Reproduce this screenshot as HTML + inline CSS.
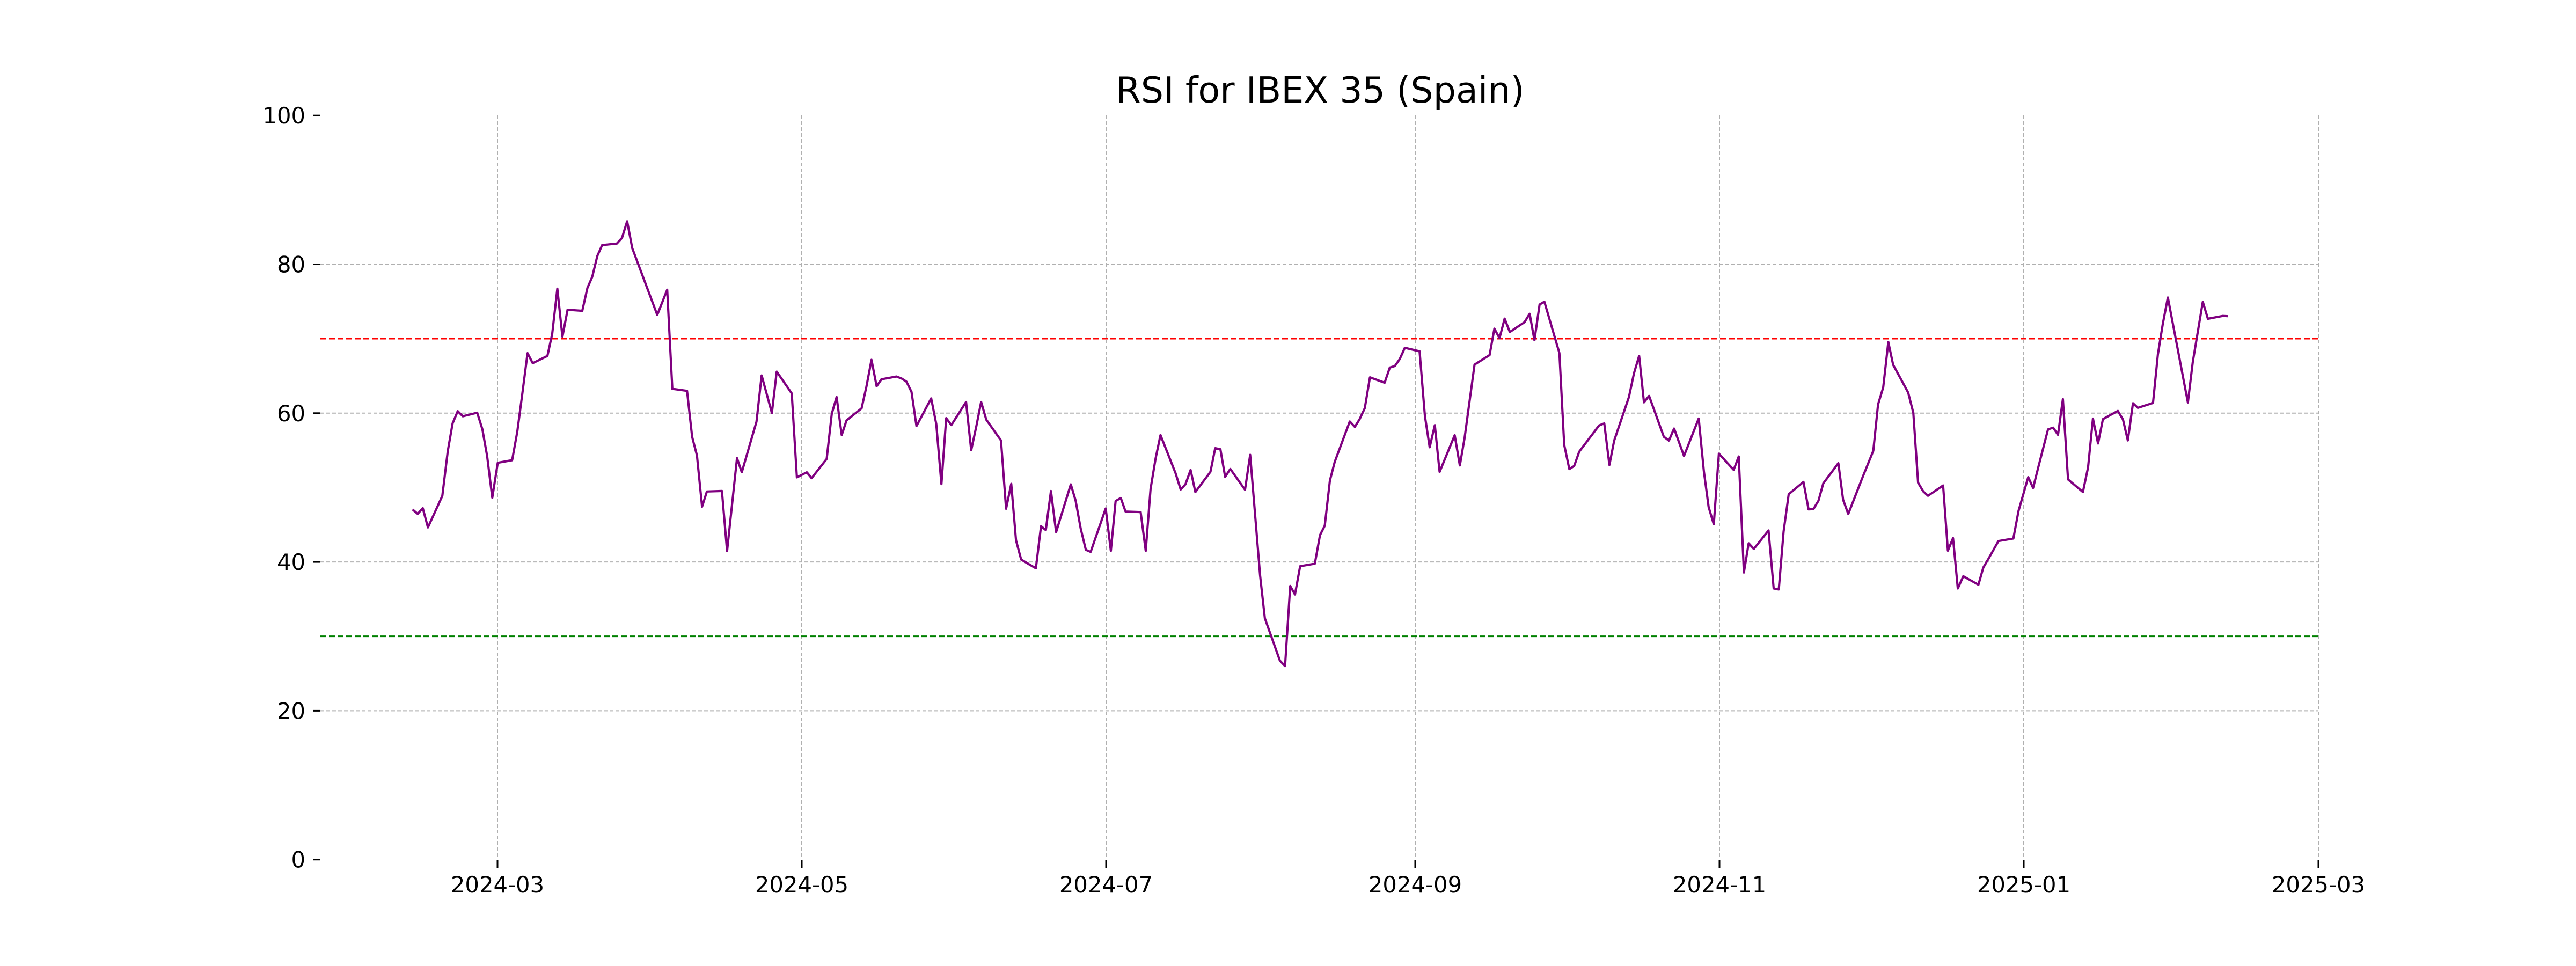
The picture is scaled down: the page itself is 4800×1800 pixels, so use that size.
<!DOCTYPE html>
<html><head><meta charset="utf-8"><style>
html,body{margin:0;padding:0;background:#fff;}
svg{display:block;}
text{font-family:"DejaVu Sans","Liberation Sans",sans-serif;fill:#000;}
</style></head><body>
<svg id="s" width="4800" height="1800" viewBox="0 0 4800 1800" xmlns="http://www.w3.org/2000/svg">
<rect width="4800" height="1800" fill="#fff"/>
<g stroke="#b0b0b0" stroke-width="2" stroke-dasharray="7,4" fill="none">
<line x1="597" x2="4320" y1="1324.4" y2="1324.4"/>
<line x1="597" x2="4320" y1="1047.1" y2="1047.1"/>
<line x1="597" x2="4320" y1="769.8" y2="769.8"/>
<line x1="597" x2="4320" y1="492.5" y2="492.5"/>
<line x1="927" x2="927" y1="215" y2="1601"/>
<line x1="1494" x2="1494" y1="215" y2="1601"/>
<line x1="2061" x2="2061" y1="215" y2="1601"/>
<line x1="2637" x2="2637" y1="215" y2="1601"/>
<line x1="3204" x2="3204" y1="215" y2="1601"/>
<line x1="3771" x2="3771" y1="215" y2="1601"/>
<line x1="4320" x2="4320" y1="215" y2="1601"/>
</g>
<line x1="597" x2="4320" y1="631" y2="631" stroke="#ff0000" stroke-width="3" stroke-dasharray="11,5"/>
<line x1="597" x2="4320" y1="1185.6" y2="1185.6" stroke="#008000" stroke-width="3" stroke-dasharray="11,5"/>
<polyline id="p" fill="none" stroke="#800080" stroke-width="4.2" stroke-linejoin="round"/>
<g stroke="#000" stroke-width="3">
<line x1="583" x2="597" y1="1601.7" y2="1601.7"/>
<line x1="583" x2="597" y1="1324.4" y2="1324.4"/>
<line x1="583" x2="597" y1="1047.1" y2="1047.1"/>
<line x1="583" x2="597" y1="769.8" y2="769.8"/>
<line x1="583" x2="597" y1="492.5" y2="492.5"/>
<line x1="583" x2="597" y1="215.2" y2="215.2"/>
<line x1="927" x2="927" y1="1603" y2="1617"/>
<line x1="1494" x2="1494" y1="1603" y2="1617"/>
<line x1="2061" x2="2061" y1="1603" y2="1617"/>
<line x1="2637" x2="2637" y1="1603" y2="1617"/>
<line x1="3204" x2="3204" y1="1603" y2="1617"/>
<line x1="3771" x2="3771" y1="1603" y2="1617"/>
<line x1="4320" x2="4320" y1="1603" y2="1617"/>
</g>
<g font-size="41.7" text-anchor="end">
<text x="569" y="1616.7">0</text>
<text x="569" y="1339.4">20</text>
<text x="569" y="1062.1">40</text>
<text x="569" y="784.8">60</text>
<text x="569" y="507.5">80</text>
<text x="569" y="230.2">100</text>
</g>
<g font-size="41.7" text-anchor="middle">
<text x="927" y="1663">2024-03</text>
<text x="1494" y="1663">2024-05</text>
<text x="2061" y="1663">2024-07</text>
<text x="2637" y="1663">2024-09</text>
<text x="3204" y="1663">2024-11</text>
<text x="3771" y="1663">2025-01</text>
<text x="4320" y="1663">2025-03</text>
</g>
<text x="2460" y="191" font-size="66.7" text-anchor="middle">RSI for IBEX 35 (Spain)</text>
</svg>
<script>
var z6=[[45,1253],[60,1270],[75,1248],[90,1323],[132,1200],[148,1025],[162,918],[177,870],[192,890],[234,876],[249,940],[263,1045],[278,1207],[294,1071],[336,1061],[351,950],[366,800],[381,644],[396,683],[439,655],[453,570],[468,393],[483,580],[498,475],[541,479],[556,390],[570,347],[585,265],[599,223],[642,217],[657,195],[672,130],[687,235],[760,495],[789,397],[804,783],[847,791],[862,970],[876,1043],[891,1242],[905,1183],[949,1181],[964,1415],[993,1053],[1007,1108],[1050,911],[1065,731],[1095,877],[1109,716],[1153,801],[1168,1128],[1197,1108],[1211,1131],[1255,1056],[1270,880],[1284,815],[1299,963],[1313,906],[1357,859],[1371,775],[1386,670],[1401,773],[1415,746],[1459,735],[1474,743],[1488,755],[1503,795]];
var z7=[[12,510],[55,402],[70,502],[85,736],[99,479],[114,506],[157,416],[172,604],[187,510],[201,416],[216,485],[259,566],[274,832],[289,735],[303,955],[318,1030],[361,1064],[376,900],[390,915],[405,763],[420,923],[463,737],[477,800],[492,910],[507,992],[521,1000],[565,831],[580,996],[594,802],[609,790],[623,843],[667,845],[682,996],[696,755],[711,635],[725,545],[769,693],[784,757],[798,737],[813,681],[827,767],[871,688],[885,596],[900,600],[914,708],[929,677],[972,758],[987,622],[1016,1092],[1030,1259],[1074,1424],[1089,1445],[1104,1133],[1118,1166],[1133,1056],[1176,1046],[1191,935],[1205,898],[1220,722],[1234,650],[1278,492],[1293,513],[1307,483],[1322,440],[1337,320],[1380,341],[1395,282],[1410,276],[1424,249],[1439,205],[1482,219]];
var z8=[[8,575],[22,697],[37,611],[51,793],[95,650],[110,768],[124,660],[153,375],[197,338],[211,235],[226,272],[241,196],[256,248],[299,210],[314,177],[328,280],[343,141],[357,130],[401,330],[415,688],[430,782],[444,770],[459,714],[517,612],[532,604],[547,766],[561,671],[604,502],[619,408],[634,341],[648,522],[663,497],[706,656],[721,671],[736,624],[765,731],[808,585],[823,790],[837,930],[852,997],[867,722],[910,785],[925,733],[940,1185],[954,1071],[969,1093],[1012,1021],[1027,1247],[1042,1251],[1056,1025],[1071,880],[1114,832],[1129,939],[1143,938],[1158,905],[1172,838],[1216,759],[1230,902],[1245,957],[1288,810],[1318,711],[1332,530],[1347,464],[1362,287],[1376,376],[1420,484],[1435,563],[1449,835],[1464,869],[1478,886],[1522,846],[1536,1100],[1551,1051],[1565,1247]];
var z9=[[331,1304],[390,1337],[409,1270],[429,1236],[468,1167],[526,1157],[546,1050],[584,918],[603,960],[623,880],[661,732],[681,725],[700,753],[719,614],[739,927],[797,976],[817,880],[836,690],[856,787],[875,692],[933,660],[953,693],[972,775],[992,630],[1011,648],[1070,629],[1089,440],[1108,322],[1128,218],[1206,627],[1225,470],[1264,235],[1284,301],[1342,290],[1362,291]];
var pts=[];
function add(a,x0,y0,sx,sy){for(var i=0;i<a.length;i++){pts.push((x0+a[i][0]/sx).toFixed(1)+','+(y0+a[i][1]/sy).toFixed(1));}}
add(z6,740,350,1.568,2.0907);
add(z7,1700,550,1.568,2.0907);
add(z8,2650,500,1.568,2.0907);
add(z9,3500,450,2.0907,2.0907);
document.getElementById('p').setAttribute('points',pts.join(' '));
</script>
</body></html>
